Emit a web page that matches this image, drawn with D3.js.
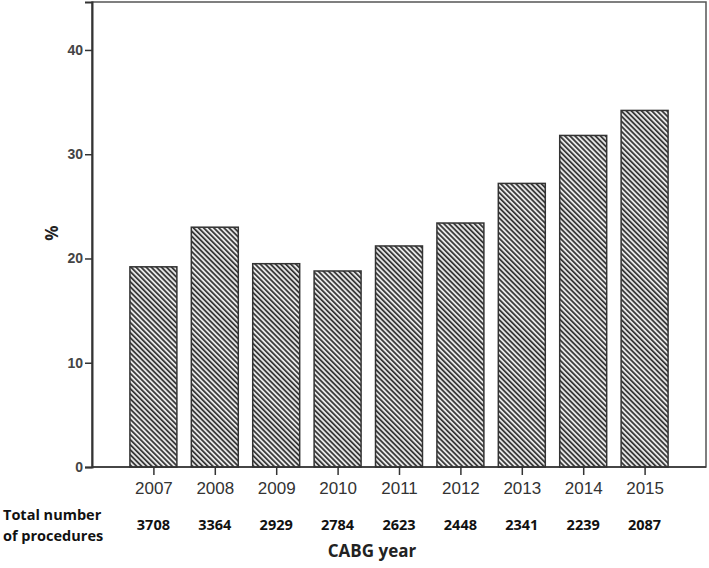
<!DOCTYPE html>
<html>
<head>
<meta charset="utf-8">
<script src="https://cdn.jsdelivr.net/npm/d3@7"></script>
<style>
  body { margin: 0; background: #fff; }
</style>
</head>
<body>
<script>
// data
const years = ["2007", "2008", "2009", "2010", "2011", "2012", "2013", "2014", "2015"];
const percent = [19.2, 23.0, 19.5, 18.8, 21.2, 23.4, 27.2, 31.8, 34.2];
const procedures = [3708, 3364, 2929, 2784, 2623, 2448, 2341, 2239, 2087];
const yTicks = [0, 10, 20, 30, 40];

const w = 709;
const h = 568;
const plot = {left: 92, right: 706, top: 2, bottom: 467};

const xScale = d3.scalePoint()
    .domain(years)
    .range([plot.left, plot.right])
    .padding(1);

const barWidth = xScale.step() * 0.765;

const yScale = d3.scaleLinear()
    .domain([0, 44.6])
    .range([plot.bottom, plot.top]);

const svg = d3.select("body")
  .append("svg")
    .attr("width", w)
    .attr("height", h);

// hatch pattern for the bars
const defs = svg.append("defs");
const pat = defs.append("pattern")
    .attr("id", "hatch")
    .attr("patternUnits", "userSpaceOnUse")
    .attr("width", 3.6)
    .attr("height", 3.6)
    .attr("patternTransform", "rotate(-45)");
pat.append("rect")
    .attr("width", 3.6).attr("height", 3.6)
    .attr("fill", "#e6e6e6");
pat.append("rect")
    .attr("x", 0).attr("y", 0)
    .attr("width", 1.7).attr("height", 3.6)
    .attr("fill", "#333");

// frame
svg.append("rect")
    .attr("x", plot.left)
    .attr("y", plot.top)
    .attr("width", plot.right - plot.left)
    .attr("height", plot.bottom - plot.top)
    .attr("fill", "none")
    .attr("stroke", "#555")
    .attr("stroke-width", 1.5);

// bars
svg.append("g")
  .selectAll("rect")
  .data(years)
  .join("rect")
    .attr("x", d => xScale(d) - barWidth / 2)
    .attr("y", (d, i) => yScale(percent[i]))
    .attr("width", barWidth)
    .attr("height", (d, i) => yScale(0) - yScale(percent[i]))
    .attr("fill", "url(#hatch)")
    .attr("stroke", "#333")
    .attr("stroke-width", 1.5);

// axes
const yAxis = d3.axisLeft(yScale)
    .tickValues(yTicks)
    .tickSize(7)
    .tickPadding(2);

const gy = svg.append("g")
    .attr("transform", `translate(${plot.left}, 0)`)
    .call(yAxis);
gy.select(".domain").attr("stroke", "#333").attr("stroke-width", 2);
gy.selectAll(".tick line").attr("stroke", "#333").attr("stroke-width", 1.5);
gy.selectAll(".tick text")
    .attr("font-family", "Liberation Sans, Arial, sans-serif")
    .attr("font-size", 14)
    .attr("font-weight", "bold")
    .attr("fill", "#444");

const xAxis = d3.axisBottom(xScale)
    .tickSize(8)
    .tickPadding(7);

const gx = svg.append("g")
    .attr("transform", `translate(0, ${plot.bottom})`)
    .call(xAxis);
gx.select(".domain").attr("stroke", "#333").attr("stroke-width", 1.5)
    .attr("d", `M${plot.left},0H${plot.right}`);
gx.selectAll(".tick line").attr("stroke", "#333").attr("stroke-width", 1.5);
gx.selectAll(".tick text")
    .attr("font-family", "Liberation Sans, Arial, sans-serif")
    .attr("font-size", 17)
    .attr("fill", "#333");

// number of procedures row
svg.append("g")
  .selectAll("text")
  .data(years)
  .join("text")
    .attr("x", d => xScale(d))
    .attr("y", 530)
    .attr("text-anchor", "middle")
    .attr("font-family", "Open Sans, sans-serif")
    .attr("font-weight", "bold")
    .attr("font-size", 14.5)
    .attr("fill", "#111")
    .text((d, i) => procedures[i]);

const rowLabel = svg.append("text")
    .attr("font-family", "Open Sans, sans-serif")
    .attr("font-weight", "bold")
    .attr("font-size", 14.5)
    .attr("fill", "#111");
rowLabel.append("tspan").attr("x", 3).attr("y", 520).text("Total number");
rowLabel.append("tspan").attr("x", 3).attr("y", 541).text("of procedures");

// axis titles
svg.append("text")
    .attr("x", 372)
    .attr("y", 557)
    .attr("text-anchor", "middle")
    .attr("font-family", "Open Sans, sans-serif")
    .attr("font-weight", "bold")
    .attr("font-size", 17)
    .attr("fill", "#222")
    .text("CABG year");

svg.append("text")
    .attr("transform", "translate(58, 233) rotate(-90)")
    .attr("text-anchor", "middle")
    .attr("font-family", "Open Sans, sans-serif")
    .attr("font-weight", "bold")
    .attr("font-size", 17)
    .attr("fill", "#222")
    .text("%");
</script>
</body>
</html>
